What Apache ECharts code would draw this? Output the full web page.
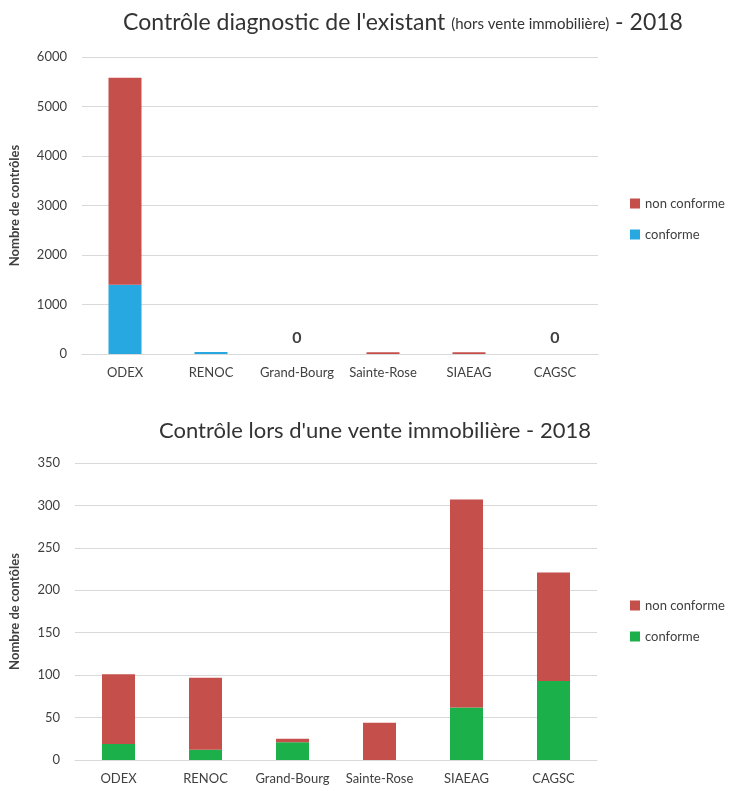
<!DOCTYPE html>
<html><head><meta charset="utf-8">
<script src="https://cdn.jsdelivr.net/npm/echarts@6/dist/echarts.min.js"></script>
<style>
html,body{margin:0;padding:0;background:#fff;}
#c1{position:absolute;left:0;top:0;width:737px;height:395px;}
#c2{position:absolute;left:0;top:395px;width:737px;height:396px;}
</style></head><body>
<div id="c1"></div><div id="c2"></div>
<script>
const categories = ['ODEX','RENOC','Grand-Bourg','Sainte-Rose','SIAEAG','CAGSC'];
const topConforme = [1400, 40, 0, 0, 0, 0];
const topNonConforme = [4180, 0, 0, 35, 35, 0];
const topTicks = [0, 1000, 2000, 3000, 4000, 5000, 6000];
const botConforme = [19, 12, 21, 0, 62, 93];
const botNonConforme = [82, 85, 4, 44, 245, 128];
const botTicks = [0, 50, 100, 150, 200, 250, 300, 350];

const RED = '#C44F4B', BLUE = '#27A8E0', GREEN = '#1CB04B';
const FONT = 'Lato';
const TXT = '#404040';

function makeOpt(cfg) {
  const tot = cfg.conf.map((v, i) => v + cfg.non[i]);
  return {
    animation: false,
    textStyle: { fontFamily: FONT },
    title: cfg.title,
    legend: {
      orient: 'vertical', left: 625, top: cfg.legendTop,
      itemWidth: 10, itemHeight: 10, itemGap: 18,
      icon: 'rect',
      textStyle: { fontFamily: FONT, fontSize: 13, color: TXT },
      data: ['non conforme', 'conforme']
    },
    grid: cfg.grid,
    xAxis: {
      type: 'category', data: categories,
      axisTick: { show: false },
      axisLine: { lineStyle: { color: '#d9d9d9' } },
      axisLabel: { fontFamily: FONT, fontSize: 13, color: TXT, margin: 12, interval: 0 }
    },
    yAxis: {
      type: 'value', min: cfg.ticks[0], max: cfg.ticks[cfg.ticks.length - 1],
      interval: cfg.ticks[1] - cfg.ticks[0],
      name: cfg.yname, nameLocation: 'middle', nameGap: cfg.nameGap,
      nameTextStyle: { fontFamily: FONT, fontSize: 13, fontWeight: 'bold', color: TXT },
      axisLabel: { fontFamily: FONT, fontSize: 13, color: TXT, margin: 15,
        formatter: v => String(v) },
      splitLine: { lineStyle: { color: '#d9d9d9' } },
      axisLine: { show: false }, axisTick: { show: false }
    },
    series: [
      { name: 'conforme', type: 'bar', stack: 's', barWidth: 33,
        itemStyle: { color: cfg.confColor }, data: cfg.conf },
      { name: 'non conforme', type: 'bar', stack: 's', barWidth: 33,
        itemStyle: { color: RED },
        data: cfg.non.map((v, i) => ({
          value: v,
          label: {
            show: cfg.zeroLabels && tot[i] === 0, position: 'top', distance: 8,
            formatter: '0', fontFamily: FONT, fontSize: 16, fontWeight: 'bold', color: TXT
          }
        })) }
    ]
  };
}

const c1 = echarts.init(document.getElementById('c1'));
c1.setOption(makeOpt({
  title: {
    left: 398, textAlign: 'center', top: 6,
    text: "{a|Contrôle diagnostic de l'existant }{b|(hors vente immobilière)}{a| - 2018}",
    textStyle: { fontWeight: 'normal', rich: {
      a: { fontFamily: FONT, fontSize: 23, fontWeight: 'normal', color: '#333' },
      b: { fontFamily: FONT, fontSize: 15, fontWeight: 'normal', color: '#333', padding: [4, 0, 0, 0] }
    } }
  },
  grid: { left: 80, right: 139, top: 57, bottom: 41 },
  legendTop: 192, ticks: topTicks, conf: topConforme, non: topNonConforme,
  confColor: BLUE, yname: 'Nombre de contrôles', nameGap: 61, zeroLabels: true
}));

const c2 = echarts.init(document.getElementById('c2'));
c2.setOption(makeOpt({
  title: {
    left: 370, textAlign: 'center', top: 20,
    text: "Contrôle lors d'une vente immobilière - 2018",
    textStyle: { fontFamily: FONT, fontSize: 22, fontWeight: 'normal', color: '#333' }
  },
  grid: { left: 73, right: 140, top: 68, bottom: 31 },
  legendTop: 199, ticks: botTicks, conf: botConforme, non: botNonConforme,
  confColor: GREEN, yname: 'Nombre de contôles', nameGap: 54, zeroLabels: false
}));
</script>
</body></html>
